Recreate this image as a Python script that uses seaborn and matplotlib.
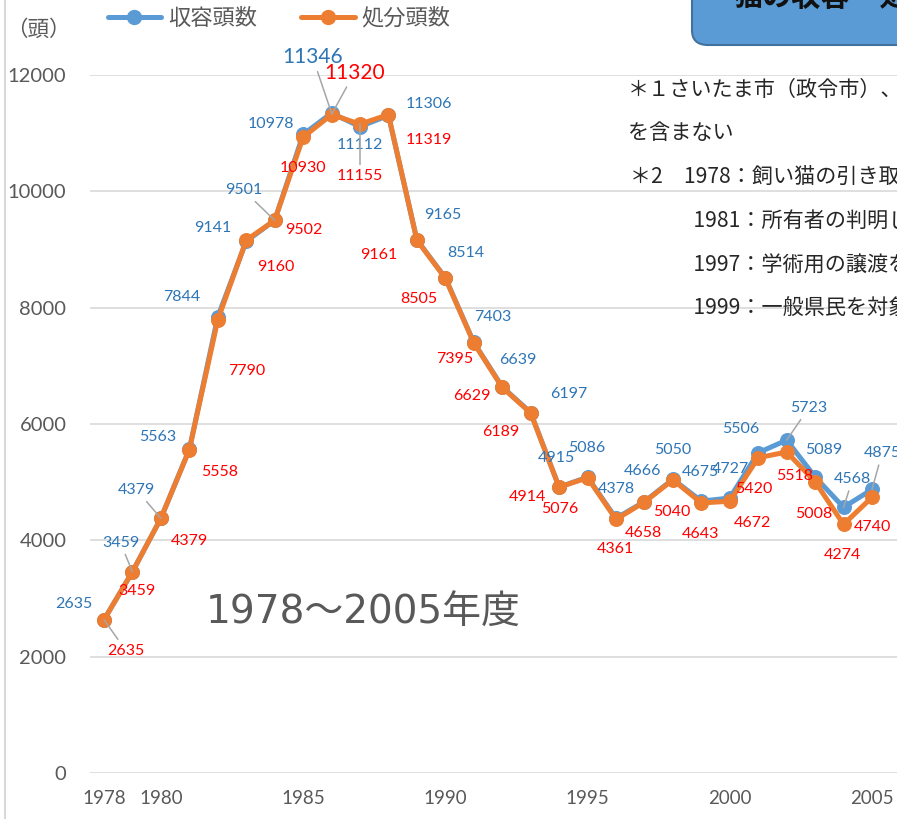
import matplotlib
matplotlib.use("Agg")
import matplotlib.pyplot as plt
import seaborn as sns
from matplotlib.patches import FancyBboxPatch
from matplotlib.lines import Line2D

# data
years = list(range(1978, 2006))
received = [2635, 3459, 4379, 5563, 7844, 9141, 9501, 10978, 11346, 11112,
            11306, 9165, 8514, 7403, 6639, 6197, 4915, 5086, 4378, 4666,
            5050, 4675, 4727, 5506, 5723, 5089, 4568, 4875]
disposed = [2635, 3459, 4379, 5558, 7790, 9160, 9502, 10930, 11320, 11155,
            11319, 9161, 8505, 7395, 6629, 6189, 4914, 5076, 4361, 4658,
            5040, 4643, 4672, 5420, 5518, 5008, 4274, 4740]
series_names = ["収容頭数", "処分頭数"]
x_ticks = [1978, 1980, 1985, 1990, 1995, 2000, 2005]
y_ticks = [0, 2000, 4000, 6000, 8000, 10000, 12000]
notes = ["＊１さいたま市（政令市）、川越市（中核市）",
         "を含まない",
         "＊2　1978：飼い猫の引き取りを開始",
         "　　　1981：所有者の判明した猫の",
         "　　　1997：学術用の譲渡を中止",
         "　　　1999：一般県民を対象とした"]

# label offsets (pixels) for each point
blue_off = [(-30, 16), (-12, 29), (-24, 28), (-32, 12), (-36, 20), (-33, 13),
            (-31, 30), (-32, 10), (-19, 56), (0, -18), (40, 11), (26, 25),
            (20, 25), (19, 25), (16, 27), (38, 19), (-3, 29), (-1, 29),
            (0, 29), (-2, 31), (0, 29), (-1, 29), (1, 29), (-17, 24),
            (22, 32), (9, 27), (9, 28), (10, 36)]
red_off = [(22, -31), (4, -19), (29, -23), (30, -22), (29, -51), (30, -27),
           (29, -10), (0, -31), (23, 42), (0, -52), (40, -25), (-38, -15),
           (-27, -21), (-19, -16), (-30, -9), (-30, -19), (-32, -10),
           (-28, -31), (-1, -30), (-1, -31), (-1, -32), (-1, -31), (23, -22),
           (-4, -31), (8, -24), (-1, -32), (-1, -31), (0, -30)]
blue_leader = {1979, 1980, 1984, 1986, 2002, 2004, 2005}
red_leader = {1978, 1986, 1987}
big_labels = {1986}

sns.set_theme(style="white")
plt.rcParams["font.family"] = ["Noto Sans CJK JP", "DejaVu Sans"]

BLUE = "#5B9BD5"
ORANGE = "#ED7D31"
BLUE_TXT = "#2E75B6"
RED_TXT = "#FF0000"
GRAY_TXT = "#595959"
NUM_FONT = ["Lato", "DejaVu Sans"]

fig = plt.figure(figsize=(8.97, 8.19), dpi=100)
ax = fig.add_axes([90 / 897, 46 / 819, 1 - 90 / 897, 698 / 819])

sns.lineplot(x=years, y=received, ax=ax, color=BLUE, linewidth=3.6,
             marker="o", markersize=10, markeredgecolor=BLUE, zorder=3)
sns.lineplot(x=years, y=disposed, ax=ax, color=ORANGE, linewidth=3.6,
             marker="o", markersize=10, markeredgecolor=ORANGE, zorder=4)

ax.set_xlim(1978 - 14 / 28.44, 2005 + 25 / 28.44)
ax.set_ylim(0, 12000)
ax.set_xticks(x_ticks)
ax.set_yticks(y_ticks)
ax.set_xticklabels([str(t) for t in x_ticks], family=NUM_FONT, fontsize=13.5, color=GRAY_TXT)
ax.set_yticklabels([str(t) for t in y_ticks], family=NUM_FONT, fontsize=14.5, color=GRAY_TXT)
ax.tick_params(axis="x", length=0, pad=12)
ax.tick_params(axis="y", length=0, pad=17)
ax.yaxis.grid(True, color="#D9D9D9", linewidth=1.2)
ax.xaxis.grid(False)
for s in ax.spines.values():
    s.set_visible(False)
ax.set_xlabel("")
ax.set_ylabel("")


def put_labels(vals, offs, color, leaders):
    for yr, v, off in zip(years, vals, offs):
        arrow = None
        if yr in leaders:
            arrow = dict(arrowstyle="-", color="#A6A6A6", lw=1.1, shrinkA=1, shrinkB=0)
        ax.annotate(str(v), (yr, v), xytext=off, textcoords="offset pixels",
                    ha="center", va="center", color=color, family=NUM_FONT,
                    fontsize=15 if yr in big_labels else 11.5,
                    annotation_clip=False, arrowprops=arrow, zorder=6)


put_labels(received, blue_off, BLUE_TXT, blue_leader)
put_labels(disposed, red_off, RED_TXT, red_leader)

# legend
handles = [Line2D([], [], color=BLUE, lw=3.6, marker="o", markersize=10),
           Line2D([], [], color=ORANGE, lw=3.6, marker="o", markersize=10)]
leg = fig.legend(handles, series_names, loc="center", bbox_to_anchor=(0.311, 0.978),
                 ncol=2, frameon=False, fontsize=16, handlelength=2.4,
                 handletextpad=0.3, columnspacing=2.0)
for t in leg.get_texts():
    t.set_color(GRAY_TXT)

fig.text(38 / 897, 1 - 30 / 819, "（頭）", fontsize=15.5, color=GRAY_TXT,
         ha="center", va="center")

fig.text(363 / 897, 1 - 613 / 819, "1978～2005年度", fontsize=28, color=GRAY_TXT,
         family=["DejaVu Sans", "Noto Sans CJK JP"], ha="center", va="center")

# title box (cropped at the right edge)
box = FancyBboxPatch((692 / 897, 1 - 45 / 819), 0.5, 0.1,
                     boxstyle="round,pad=0,rounding_size=0.018",
                     transform=fig.transFigure, facecolor=BLUE,
                     edgecolor="#41719C", linewidth=1.5, zorder=1)
fig.patches.append(box)
fig.text(733 / 897, 1 + 3 / 819, "猫の収容・処分頭数の推移", fontsize=21,
         fontweight="bold", color="#111111", ha="left", va="center")

note_y = [90, 133, 177, 221, 266, 308]
note_x = [628, 628, 630, 630, 630, 630]
for txt, nx, ny in zip(notes, note_x, note_y):
    fig.text(nx / 897, 1 - ny / 819, txt, fontsize=15.2, color="#262626",
             ha="left", va="center")

# left border
fig.add_artist(Line2D([5 / 897, 5 / 897], [0, 1], transform=fig.transFigure,
                      color="#D9D9D9", lw=1.5))

fig.savefig("out.png", dpi=100)
